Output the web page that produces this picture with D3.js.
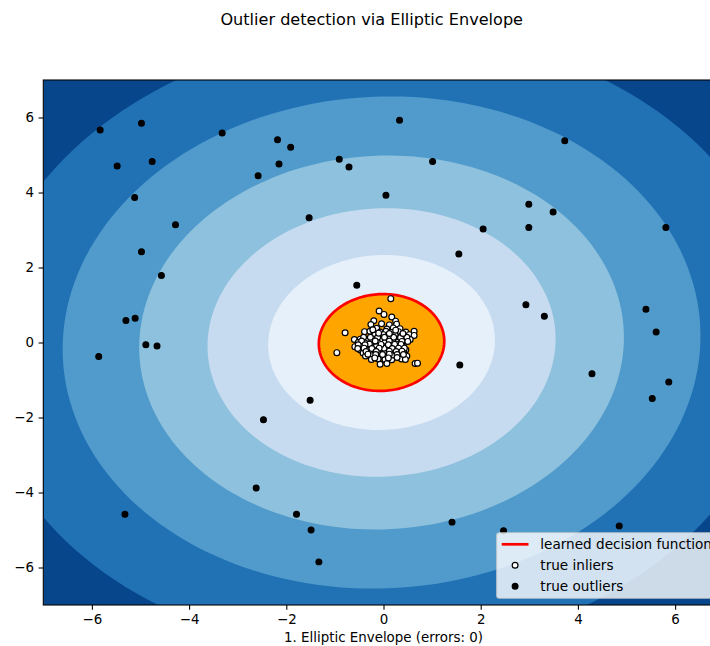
<!DOCTYPE html>
<html>
<head>
<meta charset="utf-8">
<script src="https://cdn.jsdelivr.net/npm/d3@7"></script>
<style>
  body { margin: 0; background: #fff; }
  svg { display: block; font-family: "DejaVu Sans", sans-serif; }
</style>
</head>
<body>
<script>
// Points (data units)
const inliers = [
  [0.15, 1.17], [-0.09, 0.84], [0.01, 0.75], [0.17, 0.68], [0.25, 0.57], [-0.20, 0.58],
  [-0.26, 0.48], [-0.04, 0.50], [0.12, 0.47], [0.27, 0.49],
  [-0.14, 0.38], [0.07, 0.36], [0.20, 0.39], [0.34, 0.37],
  [-0.39, 0.29], [-0.28, 0.30], [-0.07, 0.28], [0.05, 0.30], [0.17, 0.27], [0.31, 0.29], [0.46, 0.28], [0.63, 0.30],
  [-0.18, 0.20], [0.00, 0.21], [0.10, 0.19], [0.24, 0.20], [0.37, 0.18], [0.53, 0.21], [0.63, 0.19],
  [-0.60, 0.08], [-0.48, 0.09], [-0.35, 0.07], [-0.21, 0.09], [-0.07, 0.08], [0.08, 0.09], [0.22, 0.07], [0.34, 0.09], [0.44, 0.07], [0.55, 0.08],
  [-0.52, 0.00], [-0.38, -0.01], [-0.24, 0.01], [-0.11, -0.01], [0.03, 0.00], [0.17, -0.01], [0.30, 0.01], [0.42, -0.01],
  [-0.59, -0.11], [-0.45, -0.10], [-0.31, -0.12], [-0.15, -0.11], [-0.02, -0.10], [0.12, -0.12], [0.26, -0.11], [0.39, -0.10],
  [-0.48, -0.20], [-0.35, -0.19], [-0.19, -0.21], [-0.06, -0.20], [0.08, -0.19], [0.22, -0.21], [0.35, -0.20], [0.46, -0.19],
  [-0.96, -0.27], [-0.42, -0.28], [-0.28, -0.26], [-0.11, -0.27], [0.03, -0.28], [0.17, -0.26], [0.30, -0.28], [0.42, -0.27],
  [-0.37, -0.36], [-0.24, -0.35], [-0.07, -0.37], [0.07, -0.36], [0.24, -0.35], [0.34, -0.37], [0.48, -0.36],
  [-0.25, -0.45], [-0.11, -0.44], [0.03, -0.45], [0.17, -0.46], [0.37, -0.44], [0.45, -0.45],
  [0.07, -0.56], [0.65, -0.56], [0.70, -0.55], [-0.07, -0.58], [-0.79, 0.26],
  [-0.12, 0.14], [0.14, 0.13], [0.29, -0.05], [-0.29, -0.04], [0.01, -0.15], [0.19, -0.33],
  [-0.41, 0.14], [-0.27, 0.14], [0.02, 0.14], [0.21, 0.14], [0.35, 0.13], [0.48, 0.14],
  [-0.45, 0.04], [-0.17, 0.04], [0.12, 0.04], [0.38, 0.03], [0.50, 0.03],
  [-0.52, -0.06], [-0.38, -0.06], [-0.05, -0.05], [0.10, -0.06], [0.23, -0.05], [0.36, -0.05],
  [-0.53, -0.16], [-0.40, -0.15], [-0.24, -0.16], [-0.09, -0.15], [0.18, -0.16], [0.31, -0.15], [0.43, -0.15],
  [-0.36, -0.24], [-0.15, -0.24], [0.12, -0.23], [0.26, -0.24], [0.38, -0.23],
  [-0.32, -0.31], [-0.16, -0.32], [-0.02, -0.32], [0.12, -0.31], [0.28, -0.32], [0.41, -0.32],
  [-0.18, -0.41], [0.10, -0.41], [0.28, -0.40],
  [-0.10, 0.25], [0.12, 0.24], [0.25, 0.33], [-0.22, 0.34], [0.40, 0.24]
];

const outliers = [
  [-5.83, 5.67], [-4.98, 5.85], [-5.48, 4.71], [-4.76, 4.83], [-3.32, 5.59],
  [-2.18, 5.41], [-1.91, 5.21], [-2.15, 4.76], [-2.58, 4.45], [-0.91, 4.89],
  [-0.71, 4.68], [-5.12, 3.87], [-4.28, 3.14], [-4.98, 2.42], [-1.53, 3.33],
  [-4.57, 1.79], [-0.55, 1.53], [-5.30, 0.59], [-5.11, 0.65], [-4.89, -0.06],
  [-4.66, -0.09], [-5.86, -0.37],
  [0.33, 5.93], [3.73, 5.38], [1.01, 4.83], [0.05, 3.93], [2.99, 3.69],
  [3.49, 3.48], [2.99, 3.07], [5.81, 3.07], [2.05, 3.03], [1.55, 2.36],
  [2.93, 1.01], [3.31, 0.70], [5.40, 0.89], [5.61, 0.28],
  [-1.51, -1.54], [-2.47, -2.06], [-2.62, -3.88], [-5.32, -4.58], [-1.79, -4.58],
  [-1.49, -5.00], [-1.33, -5.85],
  [1.57, -0.60], [4.29, -0.83], [5.87, -1.05], [5.53, -1.49], [1.41, -4.79],
  [2.47, -5.02], [4.85, -4.89]
];

// Contour boundaries (radius along the axes, data units), outermost first
const bandRadii = [8.27, 6.56, 4.985, 3.58, 2.333];
const thresholdRadius = 1.29;
const envelopeCenter = [-0.04, 0.0];
// slight tilt of the envelope: stretch along the +45° diagonal
const diagStretch = [1.0136, 0.987];

const xTicks = [-6, -4, -2, 0, 2, 4, 6];
const yTicks = [-6, -4, -2, 0, 2, 4, 6];
const legendLabels = ["learned decision function", "true inliers", "true outliers"];

const W = 710, H = 646;
const plot = { left: 43.3, right: 723.7, top: 80, bottom: 605 };

const svg = d3.select("body").append("svg")
  .attr("width", W)
  .attr("height", H);

const x = d3.scaleLinear().domain([-7, 7]).range([plot.left, plot.right]);
const y = d3.scaleLinear().domain([-7, 7]).range([plot.bottom, plot.top]);

// Blues_r, as matplotlib builds it from the 9 brewer colours
const blues9 = ["#f7fbff", "#deebf7", "#c6dbef", "#9ecae1", "#6baed6", "#4292c6", "#2171b5", "#08519c", "#08306b"];
const blues = d3.scaleLinear().domain(d3.range(9).map(i => i / 8)).range(blues9);
const nBands = bandRadii.length + 1;
const bandColor = k => blues(1 - (k + 0.5) / nBands);

svg.append("defs").append("clipPath").attr("id", "clip")
  .append("rect")
  .attr("x", plot.left).attr("y", plot.top)
  .attr("width", plot.right - plot.left).attr("height", plot.bottom - plot.top);

const g = svg.append("g").attr("clip-path", "url(#clip)");

// ellipse outline in data space, pushed through the scales
const s2 = Math.SQRT1_2;
function ellipsePts(r) {
  const a = r * diagStretch[0], b = r * diagStretch[1];
  return d3.range(0, 361, 2).map(deg => {
    const t = deg * Math.PI / 180;
    const u = a * Math.cos(t), v = b * Math.sin(t);
    return [envelopeCenter[0] + s2 * (u - v), envelopeCenter[1] + s2 * (u + v)];
  });
}
const line = d3.line().x(d => x(d[0])).y(d => y(d[1]));

// outermost band fills the whole axes
g.append("rect")
  .attr("x", x(-7)).attr("y", y(7))
  .attr("width", x(7) - x(-7)).attr("height", y(-7) - y(7))
  .attr("fill", bandColor(0));

g.selectAll("path.band")
  .data(bandRadii)
  .join("path")
  .attr("class", "band")
  .attr("d", r => line(ellipsePts(r)) + "Z")
  .attr("fill", (r, i) => bandColor(i + 1));

// inside the threshold
g.append("path")
  .attr("d", line(ellipsePts(thresholdRadius)) + "Z")
  .attr("fill", "orange");

g.append("path")
  .attr("d", line(ellipsePts(thresholdRadius)) + "Z")
  .attr("fill", "none")
  .attr("stroke", "red")
  .attr("stroke-width", 2.7);

// scatter
g.selectAll("circle.inlier")
  .data(inliers)
  .join("circle")
  .attr("class", "inlier")
  .attr("cx", d => x(d[0]))
  .attr("cy", d => y(d[1]))
  .attr("r", 2.9)
  .attr("fill", "white")
  .attr("stroke", "black")
  .attr("stroke-width", 1.2);

g.selectAll("circle.outlier")
  .data(outliers)
  .join("circle")
  .attr("class", "outlier")
  .attr("cx", d => x(d[0]))
  .attr("cy", d => y(d[1]))
  .attr("r", 2.9)
  .attr("fill", "black")
  .attr("stroke", "black")
  .attr("stroke-width", 1.2);

// axes
const fmt = d => d < 0 ? "\u2212" + Math.abs(d) : String(d);

const xAxis = svg.append("g")
  .attr("transform", `translate(0,${plot.bottom})`)
  .call(d3.axisBottom(x).tickValues(xTicks).tickFormat(fmt).tickSize(4.7).tickPadding(4.5));

const yAxis = svg.append("g")
  .attr("transform", `translate(${plot.left},0)`)
  .call(d3.axisLeft(y).tickValues(yTicks).tickFormat(fmt).tickSize(4.7).tickPadding(4.5));

[xAxis, yAxis].forEach(ax => {
  ax.select(".domain").remove();
  ax.selectAll("line").attr("stroke", "#000").attr("stroke-width", 1.08);
  ax.selectAll("text")
    .attr("fill", "#000")
    .style("font-size", "13.4px")
    .style("font-family", "DejaVu Sans");
});

// frame
svg.append("rect")
  .attr("x", plot.left).attr("y", plot.top)
  .attr("width", plot.right - plot.left).attr("height", plot.bottom - plot.top)
  .attr("fill", "none")
  .attr("stroke", "#000")
  .attr("stroke-width", 1.08);

// legend (lower right)
const lg = svg.append("g");
lg.append("rect")
  .attr("x", 496.7).attr("y", 532.7)
  .attr("width", 220.3).attr("height", 65.6)
  .attr("rx", 2.7)
  .attr("fill", "white").attr("fill-opacity", 0.8)
  .attr("stroke", "#ccc").attr("stroke-opacity", 0.8)
  .attr("stroke-width", 1.08);

const rowY = [544.3, 565.2, 586.2];
lg.append("line")
  .attr("x1", 501.7).attr("x2", 528.5)
  .attr("y1", rowY[0]).attr("y2", rowY[0])
  .attr("stroke", "red").attr("stroke-width", 2.7);
lg.append("circle")
  .attr("cx", 515.1).attr("cy", rowY[1]).attr("r", 2.9)
  .attr("fill", "white").attr("stroke", "black").attr("stroke-width", 1.2);
lg.append("circle")
  .attr("cx", 515.1).attr("cy", rowY[2]).attr("r", 2.9)
  .attr("fill", "black").attr("stroke", "black").attr("stroke-width", 1.2);

lg.selectAll("text")
  .data(legendLabels)
  .join("text")
  .attr("x", 540.3)
  .attr("y", (d, i) => rowY[i])
  .attr("dy", "0.36em")
  .attr("fill", "#000")
  .style("font-size", "13.6px")
  .text(d => d);

// titles
svg.append("text")
  .attr("x", 371.7).attr("y", 25)
  .attr("text-anchor", "middle")
  .attr("fill", "#000")
  .style("font-size", "16.1px")
  .text("Outlier detection via Elliptic Envelope");

svg.append("text")
  .attr("x", (plot.left + plot.right) / 2).attr("y", 642)
  .attr("text-anchor", "middle")
  .attr("fill", "#000")
  .style("font-size", "13.4px")
  .text("1. Elliptic Envelope (errors: 0)");
</script>
</body>
</html>
